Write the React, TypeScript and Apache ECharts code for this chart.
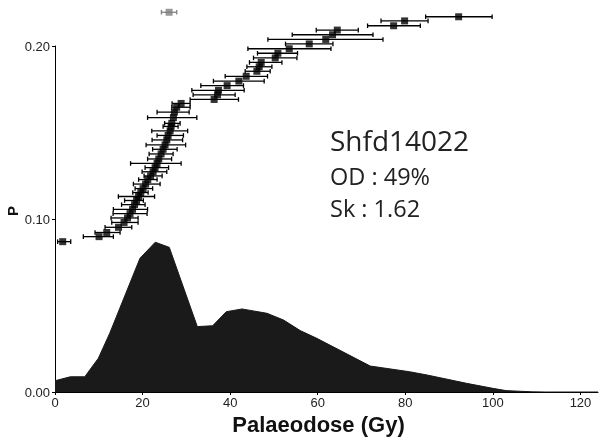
import React, { useEffect, useRef } from "react";
import * as echarts from "echarts";

// Equivalent dose estimates (Gy), ranked, with their error limits
const doseValues = [92.18, 79.84, 77.33, 64.46, 63.38, 61.83, 58.06, 53.49, 50.9, 50.29, 47.09, 46.63, 46.1, 43.66, 41.99, 39.31, 37.33, 37.1, 36.34, 28.8,
  27.79, 27.27, 27.04, 26.67, 26.51, 26.29, 25.83, 25.53, 25.14, 24.69, 24.23, 23.7, 23.31, 22.86, 22.4, 21.83, 21.19, 20.69, 20.11, 19.59,
  19.09, 18.63, 18.17, 17.71, 17.14, 16.57, 15.77, 14.51, 11.82, 10.06, 1.76];
const doseLow = [84.64, 74.45, 71.38, 59.66, 54.17, 48.62, 52.64, 44.05, 46.24, 45.33, 44.41, 43.82, 43.43, 38.86, 36.18, 33.3, 31.25, 31.54, 30.86, 26.74,
  26.67, 23.31, 21.14, 25.03, 24.69, 22.1, 23.31, 22.17, 20.8, 22.29, 21.49, 21.14, 17.26, 20.57, 19.89, 20.34, 19.09, 17.9, 18.29, 17.76,
  14.47, 15.89, 15.2, 13.33, 13.26, 12.8, 12.96, 11.43, 9.14, 6.47, 0.6];
const doseHigh = [99.82, 85.19, 83.43, 69.26, 72.62, 74.9, 63.47, 63.02, 55.38, 55.25, 51.82, 49.53, 49.14, 48.53, 47.77, 43.04, 43.2, 41.14, 41.9, 30.86,
  30.86, 30.63, 32.39, 28.57, 28.11, 30.29, 29.33, 29.14, 29.83, 27.89, 26.97, 26.63, 28.8, 25.94, 25.53, 24.46, 23.31, 24.0, 22.3, 21.26,
  22.74, 20.18, 20.57, 21.14, 21.03, 18.97, 18.97, 17.53, 14.86, 13.33, 3.59];
const rankP = [0.2169, 0.2145, 0.2117, 0.2092, 0.2065, 0.2038, 0.2012, 0.1984, 0.1958, 0.1931, 0.1905, 0.188, 0.1854, 0.1825, 0.1797, 0.1771, 0.1744, 0.1718, 0.1691, 0.1668,
  0.1646, 0.1618, 0.1586, 0.1553, 0.1535, 0.1509, 0.1483, 0.1457, 0.1428, 0.1403, 0.1376, 0.1347, 0.1321, 0.1297, 0.1273, 0.1249, 0.1228, 0.1202, 0.1176, 0.1153,
  0.113, 0.1107, 0.1083, 0.1056, 0.1031, 0.1006, 0.098, 0.0952, 0.0922, 0.0898, 0.0869];

// Central value marker (grey)
const centralDose = [26.06];
const centralLow = [24.3];
const centralHigh = [27.8];
const centralP = [0.2195];

// Probability density curve
const densityDose = [0, 3.5, 6.8, 9.9, 12.5, 19.4, 22.9, 26.1, 32.5, 36.0, 39.1, 42.7, 48.4, 52.2, 56, 59.8, 72, 81, 85, 94, 100, 103, 109, 112, 124];
const densityP = [0.0065, 0.0088, 0.0088, 0.0195, 0.034, 0.0773, 0.0866, 0.0836, 0.0378, 0.0383, 0.0464, 0.048, 0.0455, 0.0416, 0.0355, 0.031, 0.015, 0.0117, 0.0098, 0.005, 0.0021, 0.0008, 0.0001, 0, 0];

const xTicks = [0, 20, 40, 60, 80, 100, 120];
const sampleName = "Shfd14022";
const odText = "OD : 49%";
const skText = "Sk : 1.62";
const xName = "Palaeodose (Gy)";
const yName = "P";

function errorRender(color: string) {
  return (params: any, api: any) => {
    const lo = api.coord([api.value(0), api.value(2)]);
    const hi = api.coord([api.value(1), api.value(2)]);
    const h = 2.3;
    const style = { stroke: color, lineWidth: 1.3 };
    return {
      type: "group",
      children: [
        { type: "line", shape: { x1: lo[0], y1: lo[1], x2: hi[0], y2: hi[1] }, style },
        { type: "line", shape: { x1: lo[0], y1: lo[1] - h, x2: lo[0], y2: lo[1] + h }, style },
        { type: "line", shape: { x1: hi[0], y1: hi[1] - h, x2: hi[0], y2: hi[1] + h }, style },
      ],
    };
  };
}

export default function App() {
  const ref = useRef<HTMLDivElement>(null);
  useEffect(() => {
    if (!ref.current) return;
    const chart = echarts.init(ref.current, null, { renderer: "svg" });
    const errData = doseValues.map((_, i) => [doseLow[i], doseHigh[i], rankP[i]]);
    const ptData = doseValues.map((d, i) => [d, rankP[i]]);
    const cErr = centralDose.map((_, i) => [centralLow[i], centralHigh[i], centralP[i]]);
    const cPt = centralDose.map((d, i) => [d, centralP[i]]);
    const dens = densityDose.map((d, i) => [d, densityP[i]]);
    const labelFont = { fontFamily: "Liberation Sans, Arial, sans-serif", fontSize: 13, color: "#222" };
    chart.setOption({
      animation: false,
      grid: { left: 55, right: 3, top: 46, bottom: 49, containLabel: false },
      xAxis: {
        type: "value",
        min: 0,
        max: 124,
        interval: 20,
        axisLine: { show: true, lineStyle: { color: "#000", width: 1 } },
        axisTick: { show: true, length: 3, lineStyle: { color: "#000" }, customValues: xTicks },
        axisLabel: { ...labelFont, margin: 4, customValues: xTicks },
        splitLine: { show: false },
      },
      yAxis: {
        type: "value",
        min: 0,
        max: 0.2,
        interval: 0.1,
        axisLine: { show: true, onZero: false, lineStyle: { color: "#000", width: 1 } },
        axisTick: { show: true, length: 3, lineStyle: { color: "#000" } },
        axisLabel: { ...labelFont, margin: 5, formatter: (v: number) => v.toFixed(2) },
        splitLine: { show: false },
      },
      series: [
        {
          type: "line",
          data: dens,
          showSymbol: false,
          symbol: "none",
          lineStyle: { color: "#1a1a1a", width: 1 },
          areaStyle: { color: "#1a1a1a", opacity: 1 },
          z: 1,
        },
        {
          type: "custom",
          data: errData,
          encode: { x: [0, 1], y: 2 },
          renderItem: errorRender("#000"),
          clip: false,
          z: 2,
        },
        {
          type: "scatter",
          data: ptData,
          symbol: "rect",
          symbolSize: 7,
          itemStyle: { color: "#000" },
          clip: false,
          z: 3,
        },
        {
          type: "custom",
          data: cErr,
          encode: { x: [0, 1], y: 2 },
          renderItem: errorRender("#808080"),
          clip: false,
          z: 2,
        },
        {
          type: "scatter",
          data: cPt,
          symbol: "rect",
          symbolSize: 7,
          itemStyle: { color: "#808080" },
          clip: false,
          z: 3,
        },
      ],
      graphic: [
        {
          type: "text",
          x: 12,
          y: 211,
          rotation: Math.PI / 2,
          style: {
            text: yName,
            font: "bold 15px 'Liberation Sans', Arial, sans-serif",
            fill: "#111",
            textAlign: "center",
            textVerticalAlign: "middle",
          },
        },
        {
          type: "text",
          x: 318.5,
          y: 424.5,
          style: {
            text: xName,
            font: "bold 22px 'Liberation Sans', Arial, sans-serif",
            fill: "#111",
            textAlign: "center",
            textVerticalAlign: "middle",
          },
        },
        {
          type: "text",
          x: 330,
          y: 140,
          style: {
            text: sampleName,
            font: "28px 'Open Sans', sans-serif",
            fill: "#222",
            textAlign: "left",
            textVerticalAlign: "middle",
          },
        },
        {
          type: "text",
          x: 330,
          y: 175.5,
          style: {
            text: odText,
            font: "23.5px 'Open Sans', sans-serif",
            fill: "#222",
            textAlign: "left",
            textVerticalAlign: "middle",
          },
        },
        {
          type: "text",
          x: 330,
          y: 207.5,
          style: {
            text: skText,
            font: "23.5px 'Open Sans', sans-serif",
            fill: "#222",
            textAlign: "left",
            textVerticalAlign: "middle",
          },
        },
      ],
    });
    return () => chart.dispose();
  }, []);
  return (
    <div
      ref={ref}
      style={{ position: "fixed", left: 0, top: 0, width: 601, height: 441 }}
    />
  );
}
